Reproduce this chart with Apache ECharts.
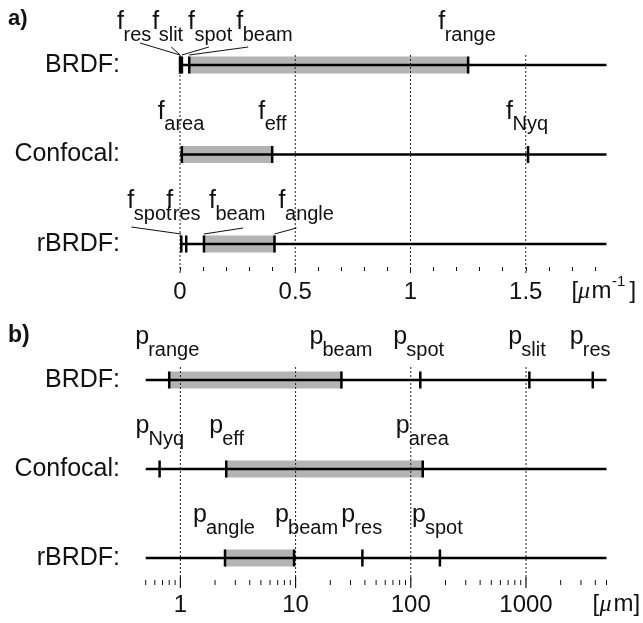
<!DOCTYPE html>
<html>
<head>
<meta charset="utf-8">
<title>Spatial frequency and period ranges</title>
<script src="https://cdn.jsdelivr.net/npm/echarts@6/dist/echarts.min.js"></script>
<style>
  html, body { margin: 0; padding: 0; background: #fff; }
  #chart { width: 643px; height: 623px; }
</style>
</head>
<body>
<div id="chart"></div>
<script>
// rows of both panels
const rowNames = ['BRDF:', 'Confocal:', 'rBRDF:'];

// a) spatial frequencies [um^-1]
const fBrdfNames = ['res', 'slit', 'spot', 'beam', 'range'];
const fBrdfValues = [0.00026, 0.00093, 0.0083, 0.04, 1.25];
const fConfocalNames = ['area', 'eff', 'Nyq'];
const fConfocalValues = [0.0079, 0.40, 1.51];
const fRbrdfNames = ['spot', 'res', 'beam', 'angle'];
const fRbrdfValues = [0.0056, 0.027, 0.104, 0.41];
const fBands = [[0.04, 1.25], [0.0079, 0.40], [0.104, 0.41]];
const fRange = [0, 1.85];
const fTickLabels = [0, 0.5, 1, 1.5];

// b) periods [um]
const pBrdfNames = ['range', 'beam', 'spot', 'slit', 'res'];
const pBrdfValues = [0.8, 25, 121, 1070, 3800];
const pConfocalNames = ['Nyq', 'eff', 'area'];
const pConfocalValues = [0.66, 2.5, 127];
const pRbrdfNames = ['angle', 'beam', 'res', 'spot'];
const pRbrdfValues = [2.44, 9.7, 38, 179];
const pBands = [[0.8, 25], [2.5, 127], [2.44, 9.7]];
const pRange = [0.5, 5000];
const pTickLabels = [1, 10, 100, 1000];
const pMinorTicks = [0.5, 0.6, 0.7, 0.8, 0.9, 2, 3, 4, 5, 6, 7, 8, 9,
  20, 30, 40, 50, 60, 70, 80, 90, 200, 300, 400, 500, 600, 700, 800, 900,
  2000, 3000, 4000, 5000];

// label layout: letter offset from its tick (px), leader start [dx from letter, dy from row line]
const fLabelDx = [[-63, -28, 6, 47, -30], [-24, -14, -22], [-54, -20, 5, 4]];
const fLeaders = [[[23, -22], [19, -18], [21, -18], [12, -18], null], [null, null, null], [[4, -17], null, [34, -16], [18, -16]]];
const pLabelDx = [[-34, -32, -27, -21, -23], [-24, -17, -27], [-32, -19, -21, -28]];

const INK = '#111';
const BAND = '#b4b4b4';
const SANS = '"Liberation Sans", Arial, sans-serif';

function buildMarkers(names, values) {
  const out = [];
  names.forEach(function (row, r) {
    row.forEach(function (n, i) {
      out.push({ sub: n, row: r, idx: i, value: [values[r][i], r] });
    });
  });
  return out;
}

const fMarkers = buildMarkers([fBrdfNames, fConfocalNames, fRbrdfNames], [fBrdfValues, fConfocalValues, fRbrdfValues]);
const pMarkers = buildMarkers([pBrdfNames, pConfocalNames, pRbrdfNames], [pBrdfValues, pConfocalValues, pRbrdfValues]);

function markerRenderer(list, letter, subGap, dxTable, leaderTable) {
  return function (params, api) {
    const m = list[params.dataIndex];
    const p = api.coord([api.value(0), api.value(1)]);
    const x = p[0], y = p[1];
    const lx = x + dxTable[m.row][m.idx];
    const children = [
      { type: 'line', shape: { x1: x, y1: y - 8.5, x2: x, y2: y + 8.5 }, style: { stroke: '#000', lineWidth: 2.5 } },
      { type: 'text', style: { text: letter, x: lx, y: y - 42.7, font: '25px ' + SANS, fill: INK, align: 'left', verticalAlign: 'middle' } },
      { type: 'text', style: { text: m.sub, x: lx + subGap, y: y - 30, font: '20px ' + SANS, fill: INK, align: 'left', verticalAlign: 'middle' } }
    ];
    const ld = leaderTable ? leaderTable[m.row][m.idx] : null;
    if (ld) {
      children.push({ type: 'line', shape: { x1: lx + ld[0], y1: y + ld[1], x2: x, y2: y - 10 }, style: { stroke: INK, lineWidth: 1 } });
    }
    return { type: 'group', children: children };
  };
}

function bandRenderer(params, api) {
  const a = api.coord([api.value(0), api.value(1)]);
  const b = api.coord([api.value(2), api.value(1)]);
  return { type: 'rect', shape: { x: a[0], y: a[1] - 8.5, width: b[0] - a[0], height: 17 }, style: { fill: BAND } };
}

function lineRenderer(params, api) {
  const a = api.coord([api.value(0), api.value(1)]);
  const b = api.coord([api.value(2), api.value(1)]);
  return { type: 'line', shape: { x1: a[0], y1: a[1], x2: b[0], y2: b[1] }, style: { stroke: '#000', lineWidth: 2.5 } };
}

function dottedRenderer(topGap, bottomGap, solidTick) {
  return function (params, api) {
    const v = api.value(0);
    const top = api.coord([v, 0]);
    const bottom = api.coord([v, 2]);
    const children = [{
      type: 'line',
      shape: { x1: top[0], y1: top[1] - topGap, x2: top[0], y2: bottom[1] + bottomGap },
      style: { stroke: '#222', lineWidth: 1, lineDash: [2, 2] }
    }];
    if (solidTick) {
      children.push({ type: 'line', shape: { x1: top[0], y1: bottom[1] + solidTick[0], x2: top[0], y2: bottom[1] + solidTick[1] }, style: { stroke: INK, lineWidth: 1.2 } });
    }
    return { type: 'group', children: children };
  };
}

function minorTickRenderer(params, api) {
  const p = api.coord([api.value(0), 2]);
  return { type: 'line', shape: { x1: p[0], y1: p[1] + 22, x2: p[0], y2: p[1] + 27 }, style: { stroke: INK, lineWidth: 1 } };
}

function rowsData(range) {
  return rowNames.map(function (_, r) { return [range[0], r, range[1]]; });
}

const chart = echarts.init(document.getElementById('chart'), null, { renderer: 'canvas' });

chart.setOption({
  backgroundColor: '#fff',
  animation: false,
  grid: [
    { left: 180, top: 65, width: 414.9, height: 179, outerBoundsMode: 'none' },
    { left: 145.7, top: 380, width: 460.8, height: 178, outerBoundsMode: 'none' }
  ],
  xAxis: [{
    gridIndex: 0,
    type: 'value',
    min: 0,
    max: 1.8,
    interval: 0.1,
    offset: 23,
    axisLine: { show: false },
    axisTick: { show: true, length: 4, lineStyle: { color: INK, width: 1 } },
    splitLine: { show: false },
    axisLabel: {
      margin: 13,
      fontSize: 24,
      fontFamily: SANS,
      color: INK,
      formatter: function (v) {
        return fTickLabels.some(function (t) { return Math.abs(t - v) < 1e-9; }) ? String(v) : '';
      }
    }
  }, {
    gridIndex: 1,
    type: 'log',
    logBase: 10,
    min: pRange[0],
    max: pRange[1],
    offset: 22,
    axisLine: { show: false },
    axisTick: { show: false },
    minorTick: { show: false },
    splitLine: { show: false },
    axisLabel: {
      margin: 13,
      fontSize: 24,
      fontFamily: SANS,
      color: INK,
      formatter: function (v) {
        const hit = pTickLabels.filter(function (t) { return Math.abs(t - v) / t < 1e-6; });
        return hit.length ? String(hit[0]) : '';
      }
    }
  }],
  yAxis: [0, 1].map(function (g) {
    return {
      gridIndex: g,
      type: 'category',
      data: rowNames,
      inverse: true,
      boundaryGap: false,
      axisLine: { show: false },
      axisTick: { show: false },
      splitLine: { show: false },
      axisLabel: { margin: g === 0 ? 60 : 25.7, fontSize: 25, fontFamily: SANS, color: INK }
    };
  }),
  series: [
    { type: 'custom', xAxisIndex: 0, yAxisIndex: 0, z: 1, renderItem: bandRenderer,
      data: fBands.map(function (b, r) { return [b[0], r, b[1]]; }) },
    { type: 'custom', xAxisIndex: 0, yAxisIndex: 0, z: 2, renderItem: dottedRenderer(10, 31, null),
      data: fTickLabels.map(function (v) { return [v, 0]; }) },
    { type: 'custom', xAxisIndex: 0, yAxisIndex: 0, z: 3, renderItem: lineRenderer, data: rowsData(fRange) },
    { type: 'custom', xAxisIndex: 0, yAxisIndex: 0, z: 4, renderItem: markerRenderer(fMarkers, 'f', 6.5, fLabelDx, fLeaders),
      data: fMarkers.map(function (m) { return m.value; }) },

    { type: 'custom', xAxisIndex: 1, yAxisIndex: 1, z: 1, renderItem: bandRenderer,
      data: pBands.map(function (b, r) { return [b[0], r, b[1]]; }) },
    { type: 'custom', xAxisIndex: 1, yAxisIndex: 1, z: 2, renderItem: dottedRenderer(13, 22, [19, 30]),
      data: pTickLabels.map(function (v) { return [v, 0]; }) },
    { type: 'custom', xAxisIndex: 1, yAxisIndex: 1, z: 3, renderItem: minorTickRenderer,
      data: pMinorTicks.map(function (v) { return [v, 2]; }) },
    { type: 'custom', xAxisIndex: 1, yAxisIndex: 1, z: 3, renderItem: lineRenderer, data: rowsData(pRange) },
    { type: 'custom', xAxisIndex: 1, yAxisIndex: 1, z: 4, renderItem: markerRenderer(pMarkers, 'p', 13, pLabelDx, null),
      data: pMarkers.map(function (m) { return m.value; }) }
  ],
  graphic: [
    { type: 'text', x: 8, y: 19, style: { text: 'a)', font: 'bold 22px ' + SANS, fill: INK, verticalAlign: 'middle' } },
    { type: 'text', x: 8, y: 336, style: { text: 'b)', font: 'bold 23px ' + SANS, fill: INK, verticalAlign: 'middle' } },

    { type: 'text', x: 571.5, y: 291.7, style: { text: '[', font: '24px ' + SANS, fill: INK, verticalAlign: 'middle' } },
    { type: 'text', x: 578, y: 291.7, style: { text: 'μ', font: 'italic 24px "Liberation Serif", serif', fill: INK, verticalAlign: 'middle' } },
    { type: 'text', x: 591.5, y: 291.7, style: { text: 'm', font: '24px ' + SANS, fill: INK, verticalAlign: 'middle' } },
    { type: 'text', x: 612, y: 282, style: { text: '-1', font: '15px ' + SANS, fill: INK, verticalAlign: 'middle' } },
    { type: 'text', x: 629.5, y: 291.7, style: { text: ']', font: '24px ' + SANS, fill: INK, verticalAlign: 'middle' } },

    { type: 'text', x: 592.5, y: 604.7, style: { text: '[', font: '24px ' + SANS, fill: INK, verticalAlign: 'middle' } },
    { type: 'text', x: 599.5, y: 604.7, style: { text: 'μ', font: 'italic 24px "Liberation Serif", serif', fill: INK, verticalAlign: 'middle' } },
    { type: 'text', x: 613.5, y: 604.7, style: { text: 'm', font: '24px ' + SANS, fill: INK, verticalAlign: 'middle' } },
    { type: 'text', x: 633.5, y: 604.7, style: { text: ']', font: '24px ' + SANS, fill: INK, verticalAlign: 'middle' } }
  ]
});
</script>
</body>
</html>
